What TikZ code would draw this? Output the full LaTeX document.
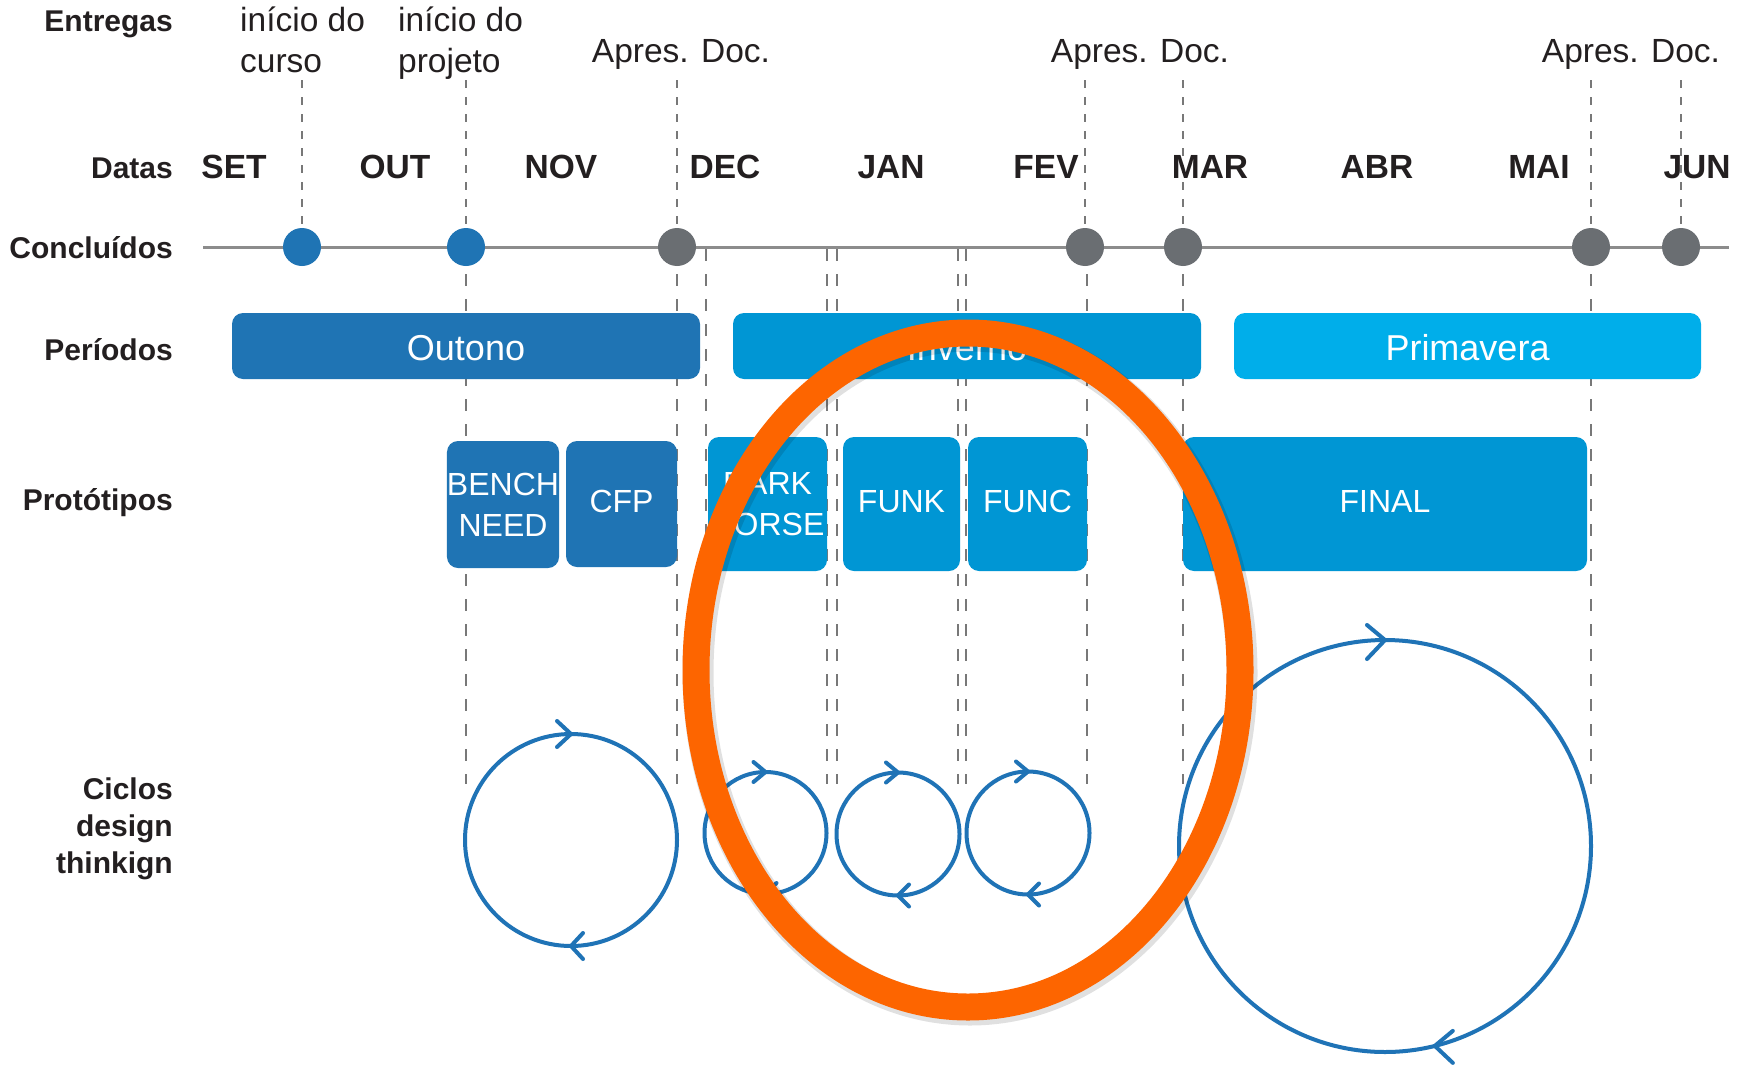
\documentclass[tikz,border=0pt]{standalone}
\usepackage{fontspec}
\setmainfont{Liberation Sans}
\usetikzlibrary{shapes.geometric}
\definecolor{dblue}{RGB}{31,116,180}
\definecolor{mblue}{RGB}{0,150,212}
\definecolor{lblue}{RGB}{0,174,234}
\definecolor{dotgrey}{RGB}{106,110,114}
\definecolor{lingrey}{RGB}{140,140,140}
\definecolor{dashgrey}{RGB}{120,120,120}
\definecolor{cycblue}{RGB}{31,115,182}
\definecolor{hlorange}{RGB}{253,101,0}
\definecolor{txt}{RGB}{35,31,32}
\begin{document}
\begin{tikzpicture}[x=1pt,y=-1pt,
  rowlabel/.style={anchor=base east, inner sep=0pt, text=txt, font=\fontsize{30}{36}\selectfont\bfseries},
  month/.style={anchor=base, inner sep=0pt, text=txt, font=\fontsize{33.5}{40}\selectfont\bfseries},
  deliv/.style={anchor=base west, inner sep=0pt, text=txt, font=\fontsize{33.5}{40}\selectfont},
  apres/.style={anchor=base, inner sep=0pt, text=txt, font=\fontsize{33.5}{40}\selectfont},
  dashtop/.style={draw=dashgrey, line width=2.5pt, dash pattern=on 8pt off 9pt},
  dashlow/.style={draw=dashgrey, line width=2.5pt, dash pattern=on 12pt off 13pt},
  tline/.style={draw=lingrey, line width=3pt},
  dot/.style={circle, minimum size=38pt, inner sep=0pt, outer sep=0pt},
  period/.style={rectangle, rounded corners=11pt, inner sep=0pt, text=white, minimum height=66pt,
    text height=28pt, text depth=0pt, font=\fontsize{36}{40}\selectfont},
  proto/.style={rectangle, rounded corners=11pt, inner sep=0pt, text=white, align=center, font=\fontsize{32}{41}\selectfont},
  oneline/.style={text height=16pt, text depth=0pt},
  cyc/.style={circle, draw=cycblue, line width=4pt, inner sep=0pt, outer sep=0pt},
  chev/.style={draw=cycblue, line width=4pt, line cap=round, line join=round},
  hl/.style={ellipse, inner sep=0pt, outer sep=0pt, minimum width=544pt, minimum height=674pt}
]
\useasboundingbox (0,0) rectangle (1755,1065);
\fill[white] (0,0) rectangle (1755,1065);

% dashed guide lines, upper part
\foreach \x in {302,466,677,1085,1183,1591,1681}
  \draw[dashtop] (\x,80) -- (\x,247);
% dashed guide lines, lower part
\foreach \x in {466,677,706,827,837,958,966,1087,1183,1591}
  \draw[dashlow] (\x,249) -- (\x,784);

% timeline
\draw[tline] (203,247) -- (1729,247);
\node[dot, fill=dblue] (d1) at (302,247) {};
\node[dot, fill=dblue] (d2) at (466,247) {};
\node[dot, fill=dotgrey] (d3) at (677,247) {};
\node[dot, fill=dotgrey] (d4) at (1085,247) {};
\node[dot, fill=dotgrey] (d5) at (1183,247) {};
\node[dot, fill=dotgrey] (d6) at (1591,247) {};
\node[dot, fill=dotgrey] (d7) at (1681,247) {};

% row labels
\node[rowlabel] (lEnt) at (173,32) {Entregas};
\node[rowlabel] (lDat) at (173,178) {Datas};
\node[rowlabel] (lCon) at (173,258) {Concluídos};
\node[rowlabel] (lPer) at (173,360) {Períodos};
\node[rowlabel] (lPro) at (173,510) {Protótipos};
\node[rowlabel] (lCi1) at (173,799) {Ciclos};
\node[rowlabel] (lCi2) at (173,836) {design};
\node[rowlabel] (lCi3) at (173,873) {thinkign};

% deliveries
\node[deliv] (e1a) at (240,32) {início do};
\node[deliv] (e1b) at (240,72) {curso};
\node[deliv] (e2a) at (398,32) {início do};
\node[deliv] (e2b) at (398,72) {projeto};
\node[apres] (a1) at (681,63) {Apres. Doc.};
\node[apres] (a2) at (1140,63) {Apres. Doc.};
\node[apres] (a3) at (1631,63) {Apres. Doc.};

% months
\node[month] (mSET) at (234,178) {SET};
\node[month] (mOUT) at (395,178) {OUT};
\node[month] (mNOV) at (561,178) {NOV};
\node[month] (mDEC) at (725,178) {DEC};
\node[month] (mJAN) at (891,178) {JAN};
\node[month] (mFEV) at (1046,178) {FEV};
\node[month] (mMAR) at (1210,178) {MAR};
\node[month] (mABR) at (1377,178) {ABR};
\node[month] (mMAI) at (1539,178) {MAI};
\node[month] (mJUN) at (1697,178) {JUN};

% periods
\node[period, fill=dblue, minimum width=468pt] (pOut) at (466,346) {Outono};
\node[period, fill=mblue, minimum width=468pt] (pInv) at (967,346) {Inverno};
\node[period, fill=lblue, minimum width=467pt] (pPri) at (1467.5,346) {Primavera};

% prototypes
\node[proto, fill=dblue, minimum width=112pt, minimum height=127pt] (bBen) at (503,504.5) {BENCH\\NEED};
\node[proto, oneline, fill=dblue, minimum width=111pt, minimum height=126pt] (bCfp) at (621.5,504) {CFP};
\node[proto, fill=mblue, minimum width=119pt, minimum height=134pt] (bDar) at (767.5,504) {DARK\\HORSE};
\node[proto, oneline, fill=mblue, minimum width=117pt, minimum height=134pt] (bFuk) at (901.5,504) {FUNK};
\node[proto, oneline, fill=mblue, minimum width=119pt, minimum height=134pt] (bFuc) at (1027.5,504) {FUNC};
\node[proto, oneline, fill=mblue, minimum width=404pt, minimum height=134pt] (bFin) at (1385,504) {FINAL};

% design thinking cycles
\node[cyc, minimum size=212pt] (c1) at (571,840) {};
\node[cyc, minimum size=122pt] (c2) at (765.5,833) {};
\node[cyc, minimum size=123pt] (c3) at (898,834) {};
\node[cyc, minimum size=123pt] (c4) at (1028,833) {};
\node[cyc, minimum size=412pt] (c5) at (1385,846) {};

\draw[chev] (c1.north) +(-14,-13) -- (c1.north) -- +(-14,13);
\draw[chev] (c1.south) +(12,-13) -- (c1.south) -- +(12,13);
\foreach \c in {c2,c3,c4}{
  \draw[chev] (\c.north) +(-12,-10) -- (\c.north) -- +(-12,10);
  \draw[chev] (\c.south) +(11,-11) -- (\c.south) -- +(11,11);
}
\draw[chev] (c5.north) +(-18,-15) -- (c5.north) -- +(-18,19);
\draw[chev] (c5.-76) +(18,-15) -- (c5.-76) -- +(18,17);

% highlight ellipse
\node[hl, draw=black, draw opacity=0.12, line width=31pt] (hlsh) at (970,673) {};
\node[hl, draw=hlorange, line width=27pt] (hlo) at (968,670) {};
\end{tikzpicture}
\end{document}
